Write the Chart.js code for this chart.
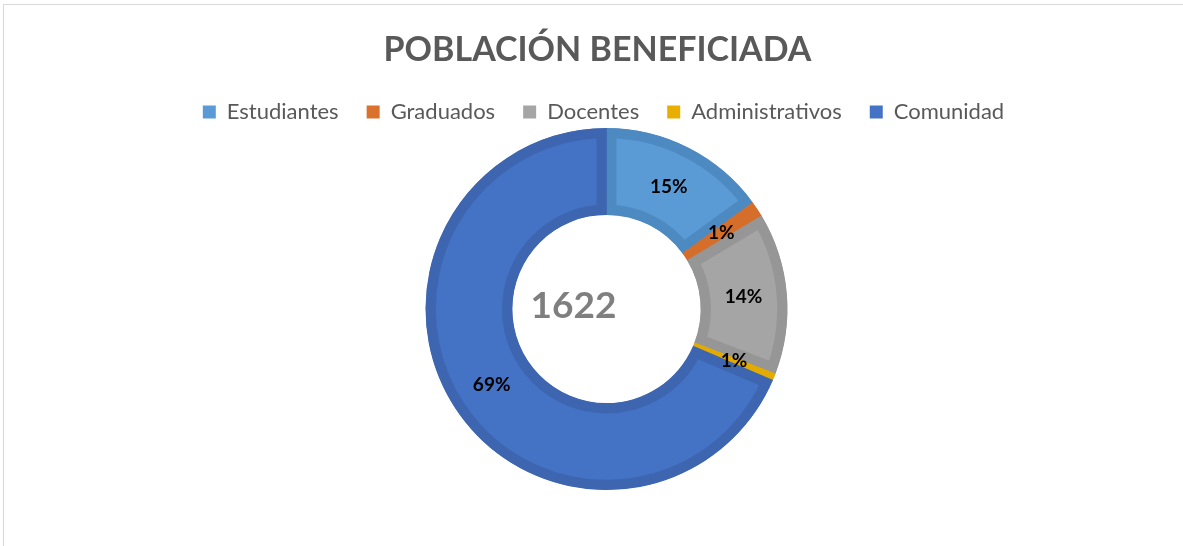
<!DOCTYPE html>
<html>
<head>
<meta charset="utf-8">
<script src="https://cdn.jsdelivr.net/npm/chart.js@4/dist/chart.umd.min.js"></script>
<style>
  html, body { margin: 0; padding: 0; background: #fff; overflow: hidden; }
  #frame { position: absolute; left: 3px; top: 4px; width: 1300px; height: 700px; border: 1px solid #d9d9d9; }
  #wrap { position: absolute; left: 0; top: 0; width: 1183px; height: 546px; }
</style>
</head>
<body>
<div id="frame"></div>
<div id="wrap"><canvas id="poblacion-chart" width="1183" height="546"></canvas></div>
<script>
const categories = ['Estudiantes', 'Graduados', 'Docentes', 'Administrativos', 'Comunidad'];
const values = [243, 23, 234, 10, 1112];
const fillColors = ['#5B9BD5', '#DA712C', '#A5A5A5', '#E8AE00', '#4472C4'];
const edgeColors = ['#4E8AC2', '#D56E2A', '#969696', '#E3AA00', '#3E66B0'];
const totalLabel = '1622';

document.addEventListener('DOMContentLoaded', function () {
  const canvas = document.getElementById('poblacion-chart');
  const ctx = canvas.getContext('2d');
  const total = values.reduce((a, b) => a + b, 0);

  // percentages on each slice + total in the hole
  const labelsPlugin = {
    id: 'sliceLabels',
    afterDatasetsDraw(chart) {
      const c = chart.ctx;
      const meta = chart.getDatasetMeta(0);
      c.save();
      c.fillStyle = '#000';
      c.font = 'bold 19px Lato, "Open Sans", sans-serif';
      c.textAlign = 'center';
      c.textBaseline = 'middle';
      meta.data.forEach(function (arc, i) {
        const p = arc.getCenterPoint();
        c.fillText(Math.round(values[i] / total * 100) + '%', p.x, p.y);
      });
      const cx = meta.data[0].x, cy = meta.data[0].y;
      c.fillStyle = '#7F7F7F';
      c.font = 'bold 37px Lato, "Open Sans", sans-serif';
      c.fillText(totalLabel, cx - 33, cy - 3);
      c.restore();
    }
  };

  // tweak legend height and nudge title/legend a little to the left like the original
  function nudge(box, dx) {
    if (!box) return;
    const draw = box.draw;
    box.draw = function () {
      this.ctx.save();
      this.ctx.translate(dx, 0);
      draw.apply(this, arguments);
      this.ctx.restore();
    };
  }
  const layoutTweaks = {
    id: 'layoutTweaks',
    afterInit(chart) {
      const lg = chart.legend;
      if (lg) {
        const fit = lg.fit;
        lg.fit = function () {
          fit.call(this);
          this.height -= 5;
        };
      }
      nudge(chart.legend, -3);
      nudge(chart.titleBlock, -9);
    }
  };

  new Chart(ctx, {
    type: 'doughnut',
    data: {
      labels: categories,
      datasets: [{
        data: values,
        backgroundColor: fillColors,
        borderColor: edgeColors,
        borderWidth: 10,
        borderAlign: 'inner',
        hoverOffset: 0
      }]
    },
    options: {
      responsive: false,
      animation: false,
      cutout: '52%',
      layout: { padding: { left: 30, right: 0, top: 0, bottom: 56 } },
      plugins: {
        tooltip: { enabled: false },
        title: {
          display: true,
          text: 'POBLACIÓN BENEFICIADA',
          color: '#595959',
          font: { family: 'Lato, "Open Sans", sans-serif', size: 34, weight: 'bold', lineHeight: 1 },
          padding: { top: 33, bottom: 6 }
        },
        legend: {
          position: 'top',
          labels: {
            color: '#595959',
            font: { family: 'Lato, "Open Sans", sans-serif', size: 22 },
            boxWidth: 13,
            boxHeight: 13,
            padding: 28,
            generateLabels(chart) {
              const items = Chart.overrides.doughnut.plugins.legend.labels.generateLabels(chart);
              items.forEach(function (it) { it.lineWidth = 0; });
              return items;
            }
          }
        }
      }
    },
    plugins: [labelsPlugin, layoutTweaks]
  });
});
</script>
</body>
</html>
